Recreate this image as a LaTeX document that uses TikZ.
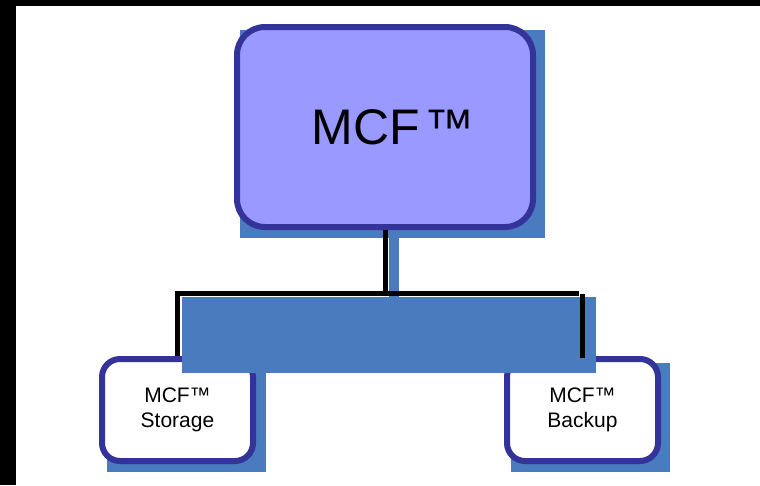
\documentclass[tikz,border=0pt]{standalone}
\usepackage{fontspec}
\setmainfont{Liberation Sans}
\usetikzlibrary{backgrounds}
\definecolor{boxline}{HTML}{333399}
\definecolor{boxfill}{HTML}{9999FF}
\definecolor{shadeblue}{HTML}{4A7BBF}

\begin{document}
\begin{tikzpicture}[x=1pt, y=-1pt,
    topbox/.style={draw=boxline, line width=6pt, fill=boxfill, rounded corners=28pt, minimum width=296pt, minimum height=200pt, inner sep=0pt, font=\fontsize{50}{60}\selectfont},
    leafbox/.style={draw=boxline, line width=6pt, fill=white, rounded corners=18pt, minimum width=151pt, minimum height=102pt, inner sep=0pt, align=center, font=\fontsize{21}{25}\selectfont},
    shadowfill/.style={fill=shadeblue},
    wire/.style={draw=black, line width=5pt}]
  \useasboundingbox (0,0) rectangle (760,485);
  \fill[black] (0,0) rectangle (760,6);
  \fill[black] (0,0) rectangle (16,485);

  \node[topbox] (mcf) at (385,127) {\hspace*{16pt}MCF\hspace{5pt}™};
  \node[leafbox] (store) at (177.5,410) {MCF™\\Storage};
  \node[leafbox] (backup) at (582.5,410) {MCF™\\Backup};

  % shadows behind the boxes
  \begin{scope}[on background layer]
    \fill[shadowfill] ([shift={(6,6)}]mcf.north west) rectangle ([shift={(9,8)}]mcf.south east);
    \fill[shadowfill] ([shift={(8,8)}]store.north west) rectangle ([shift={(10,8)}]store.south east);
    \fill[shadowfill] ([shift={(7,7)}]backup.north west) rectangle ([shift={(9,8)}]backup.south east);
  \end{scope}

  % shadow of the connector
  \fill[shadowfill] (389,238) rectangle (399,298);
  \fill[shadowfill] (182,297) rectangle (596,373);

  \draw[wire] (mcf.south) -- ++(0,63) coordinate (hub);
  \draw[wire] (hub) -- (hub -| store.north) -- (store.north);
  \draw[wire] (hub) -- ([xshift=-4pt]hub -| backup.north);
  \draw[wire] ([shift={(0,1)}]hub -| backup.north) -- ([shift={(0,2)}]backup.north);
\end{tikzpicture}
\end{document}
